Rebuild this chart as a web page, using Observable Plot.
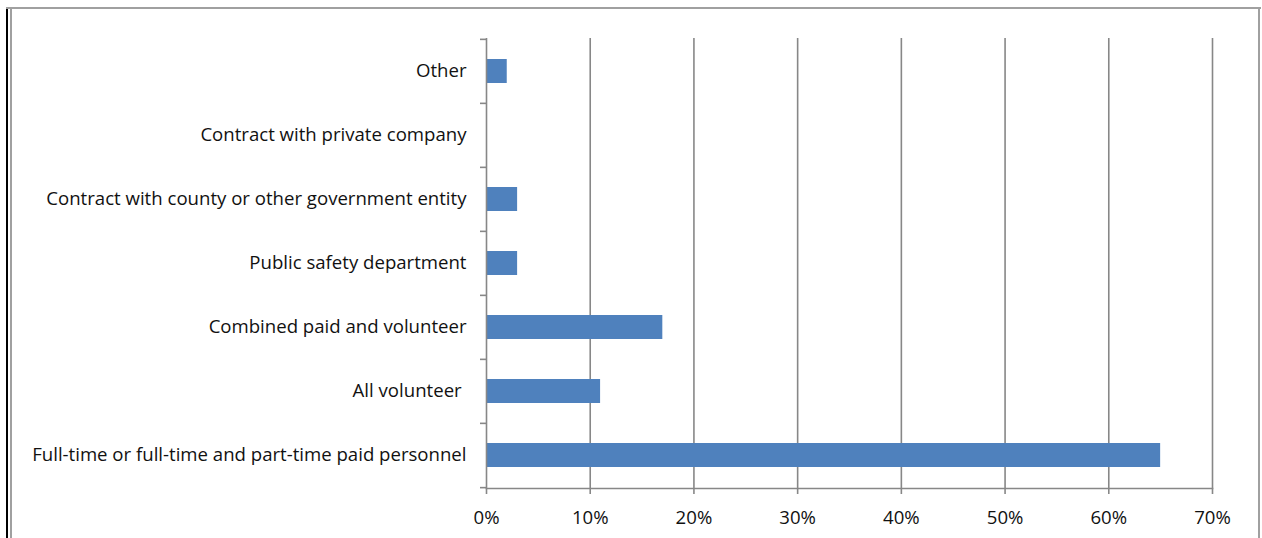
<!DOCTYPE html>
<html><head><meta charset="utf-8">
<script src="https://cdn.jsdelivr.net/npm/d3@7"></script>
<script src="https://cdn.jsdelivr.net/npm/@observablehq/plot@0.6"></script>
<style>
body{margin:0;background:#fff;}
#wrap{position:relative;width:1262px;height:538px;overflow:hidden;background:#fff}
.b{position:absolute}
#wrap svg{position:absolute;left:0;top:0}
</style></head><body><div id="wrap"></div>
<script>
const categories = [
  "Other",
  "Contract with private company",
  "Contract with county or other government entity",
  "Public safety department",
  "Combined paid and volunteer",
  "All volunteer\u00A0",
  "Full-time or full-time and part-time paid personnel"
];
const values = [2, 0, 3, 3, 17, 11, 65];
const xTicks = [0, 10, 20, 30, 40, 50, 60, 70];
const gridTicks = [10, 20, 30, 40, 50, 60, 70];

const data = categories.map((c, i) => ({category: c, value: values[i]}));

const W = 1262, H = 538, mt = 38, mb = 50, ml = 486, mr = 50;
const step = (H - mt - mb) / categories.length;
const gray = "#878787";

const chart = Plot.plot({
  width: W, height: H,
  marginTop: mt, marginBottom: mb, marginLeft: ml, marginRight: mr,
  style: {fontFamily: "'Open Sans', 'Liberation Sans', sans-serif", fontSize: "18.6px", color: "#111", background: "transparent"},
  x: {domain: [0, 70]},
  y: {domain: categories, padding: 0.63, paddingOuter: 0.315},
  marks: [
    Plot.ruleX(gridTicks, {stroke: gray, strokeWidth: 1.6}),
    Plot.barX(data, {x: "value", y: "category", fill: "#4F81BD"}),
    Plot.ruleX([0], {stroke: gray, strokeWidth: 1.6}),
    Plot.frame({anchor: "bottom", stroke: gray, strokeWidth: 1.6}),
    Plot.axisX({ticks: xTicks, tickFormat: d => d + "%", tickSize: 6, tickPadding: 16, stroke: gray, strokeWidth: 1.6, label: null, fill: "#111"}),
    Plot.axisY({tickSize: 0, tickPadding: 20, label: null, fill: "#111"}),
    Plot.axisY({tickSize: 6, text: null, dy: -step / 2, stroke: gray, strokeWidth: 1.6, label: null}),
    Plot.axisY({ticks: [categories[categories.length - 1]], tickSize: 6, text: null, dy: step / 2, stroke: gray, strokeWidth: 1.6, label: null})
  ]
});

const wrap = document.getElementById("wrap");
wrap.appendChild(chart);
function line(l, t, w, h, c) {
  const d = document.createElement("div");
  d.className = "b";
  Object.assign(d.style, {left: l + "px", top: t + "px", width: w + "px", height: h + "px", background: c});
  wrap.appendChild(d);
}
line(6, 7, 2, 540, "#000");
line(10, 7, 2, 540, "#a0a0a0");
line(6, 7, 1255, 2, "#a0a0a0");
line(1258, 7, 2, 540, "#a0a0a0");
</script></body></html>
